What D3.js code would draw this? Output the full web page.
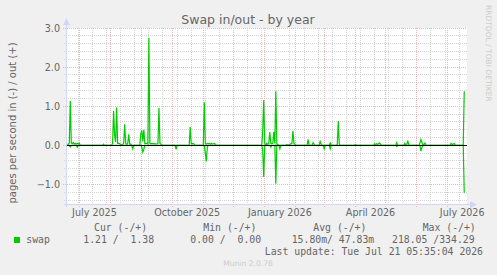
<!DOCTYPE html>
<html>
<head>
<meta charset="utf-8">
<script src="https://cdn.jsdelivr.net/npm/d3@7"></script>
<style>
  body { margin: 0; background: #f0f0f0; }
  svg { display: block; }
  text { font-family: "DejaVu Sans", sans-serif; }
  .mono { font-family: "DejaVu Sans Mono", monospace; white-space: pre; }
</style>
</head>
<body>
<svg width="497" height="275"></svg>
<script>
// daily samples (only days around activity, the rest is flat zero)
const dates = [
  "2025-06-19","2025-06-20","2025-06-21","2025-06-22","2025-06-23","2025-06-24","2025-06-25","2025-06-26","2025-06-27","2025-06-28","2025-06-29","2025-06-30",
  "2025-07-01","2025-07-02","2025-07-24","2025-07-25","2025-07-26",
  "2025-08-02","2025-08-03","2025-08-04","2025-08-05","2025-08-06","2025-08-07","2025-08-08","2025-08-09","2025-08-10","2025-08-11","2025-08-13","2025-08-14","2025-08-15","2025-08-16","2025-08-17","2025-08-18","2025-08-19","2025-08-20","2025-08-21","2025-08-22","2025-08-23","2025-08-24","2025-08-30","2025-08-31",
  "2025-09-01","2025-09-02","2025-09-03","2025-09-04","2025-09-05","2025-09-06","2025-09-07","2025-09-08","2025-09-09","2025-09-10","2025-09-11","2025-09-12","2025-09-13","2025-09-14","2025-09-15","2025-09-16","2025-09-17","2025-09-18","2025-09-19","2025-09-20","2025-09-21",
  "2025-10-04","2025-10-05","2025-10-06","2025-10-18","2025-10-19","2025-10-20","2025-10-21","2025-10-22","2025-10-23","2025-10-24",
  "2025-11-01","2025-11-02","2025-11-03","2025-11-04","2025-11-05","2025-11-06","2025-11-07","2025-11-08","2025-11-09","2025-11-10","2025-11-11","2025-11-12","2025-11-13","2025-11-14",
  "2025-12-29","2025-12-30","2025-12-31",
  "2026-01-01","2026-01-02","2026-01-03","2026-01-04","2026-01-05","2026-01-06","2026-01-07","2026-01-08","2026-01-09","2026-01-10","2026-01-11","2026-01-12","2026-01-13","2026-01-14","2026-01-15","2026-01-16","2026-01-17","2026-01-22","2026-01-23","2026-01-24","2026-01-28","2026-01-29","2026-01-30","2026-01-31",
  "2026-02-01","2026-02-12","2026-02-13","2026-02-14","2026-02-17","2026-02-18","2026-02-19","2026-02-20","2026-02-24","2026-02-25","2026-02-26","2026-02-27","2026-02-28",
  "2026-03-01","2026-03-02","2026-03-06","2026-03-07","2026-03-08","2026-03-13","2026-03-14","2026-03-15","2026-03-16","2026-03-17","2026-03-31",
  "2026-04-01","2026-04-02","2026-04-19","2026-04-20","2026-04-21","2026-04-22","2026-04-23","2026-04-24","2026-04-25","2026-04-26","2026-04-27",
  "2026-05-11","2026-05-12","2026-05-13","2026-05-19","2026-05-20","2026-05-21","2026-05-22","2026-05-23","2026-05-24",
  "2026-06-03","2026-06-04","2026-06-05","2026-06-06","2026-06-07","2026-06-08","2026-06-09","2026-06-10",
  "2026-07-04","2026-07-05","2026-07-06","2026-07-07","2026-07-08","2026-07-09","2026-07-17","2026-07-18"
];
// swap out, pages/s (drawn upwards)
const swapOut = [
  0.02,0.03,0.06,1.13,0.06,0.04,0.07,0.03,0.05,0.03,0.05,0.04,
  0.05,0,0,0.03,0,
  0,0.05,0.88,0.25,0.08,0.97,0.05,0.05,0.04,0.02,0.02,0.05,0.54,0.05,0.02,0.05,0.28,0.03,0.03,0,0,0,0,0.30,
  0.38,0.10,0.40,0.04,0.05,0.05,0.04,2.75,0.05,0.04,0.05,0.04,0.05,0.03,0.04,0.03,0.05,0.96,0.05,0.03,0,
  0,0,0,0,0.47,0.05,0.04,0.05,0.03,0,
  0,1.10,0.05,0.03,0.05,0.04,0.05,0.03,0.05,0.03,0.04,0.05,0.03,0,
  0,0.38,1.15,
  0.05,0,0.05,0.02,0.05,0.34,0.05,0.04,0.05,0.34,0.05,1.38,0.03,0.02,0,0,0,0,0.02,0,0.05,0.37,0.05,0.03,
  0,0,0.15,0,0,0.07,0.03,0,0,0.10,0.03,0,0,
  0,0,0,0.06,0,0,0.03,0.62,0.03,0,0,
  0.02,0,0,0.04,0.02,0.04,0.02,0.04,0.06,0.02,0,
  0,0.07,0,0,0.05,0,0.03,0.12,0,
  0,0.05,0.15,0.08,0,0.02,0.06,0,
  0,0.05,0.02,0.03,0.05,0,0,1.38
];
// swap in, pages/s (drawn downwards)
const swapIn = [
  0,0,0,0.04,0,0,0,0,0,0,0.05,0,
  0,0,0,0,0,
  0,0,0,0,0,0,0,0,0,0,0,0,0,0,0,0,0,0,0,0,0.09,0,0,0,
  0.05,0.17,0.10,0,0,0,0,0,0,0,0,0,0,0,0,0,0,0,0,0,0,
  0,0.10,0,0,0,0,0,0,0,0,
  0,0,0.20,0.41,0.05,0,0,0,0,0,0,0,0,0,
  0,0.12,0.81,
  0,0,0,0,0,0,0.05,0,0,0,0,0.98,0,0,0,0.09,0,0,0,0,0,0,0,0,
  0,0,0,0,0,0,0,0,0,0,0,0,0,
  0.09,0,0,0.09,0,0,0,0,0,0,0,
  0,0,0,0,0,0,0,0,0,0,0,
  0,0.03,0,0,0,0,0,0,0,
  0,0,0.15,0.05,0,0,0,0,
  0,0,0,0,0,0,0,1.21
];

const yTicks = [-1.0, 0.0, 1.0, 2.0, 3.0];
const quarterLabels = ["2025-07-01", "2025-10-01", "2026-01-01", "2026-04-01", "2026-07-01"];
const legendHeads = ["Cur (-/+)", "Min (-/+)", "Avg (-/+)", "Max (-/+)"];
const legendValues = ["1.21 /  1.38", "0.00 /  0.00", "15.80m/ 47.83m", "218.05 /334.29"];
const seriesName = "swap";
const lastUpdate = "Last update: Tue Jul 21 05:35:04 2026";

const colors = {
  back: "#f0f0f0",
  canvas: "#ffffff",
  font: "#666666",
  axis: "#cfd6f8",
  grid: "#d4d4d4",
  mgrid: "#f2b4b4",
  line: "#00cc00"
};

const svg = d3.select("svg");
const parse = d3.timeParse("%Y-%m-%d");

const x = d3.scaleTime()
  .domain([new Date(2025, 5, 19, 5, 35), new Date(2026, 6, 21, 5, 35)])
  .range([67.5, 467.5]);
const y = d3.scaleLinear().domain([-1.5, 3.0]).range([204, 28]);

const crisp = v => Math.floor(v) + 0.5;

svg.append("rect").attr("width", 497).attr("height", 275).attr("fill", colors.back);
svg.append("rect").attr("x", 67).attr("y", 28).attr("width", 400).attr("height", 176)
  .attr("fill", colors.canvas);

// grid
const grid = svg.append("g");
const minorY = d3.range(-14, 31, 2).map(v => v / 10).filter(v => Math.abs(v % 1) > 0.01);
grid.selectAll(".hminor").data(minorY).enter().append("line")
  .attr("x1", 64).attr("x2", 467).attr("y1", d => crisp(y(d))).attr("y2", d => crisp(y(d)))
  .attr("stroke", colors.grid).attr("stroke-dasharray", "1,1");

// biweekly minor lines (Mondays)
let weeks = [];
for (let t = new Date(2025, 5, 30); t < x.domain()[1]; t = d3.timeDay.offset(t, 14)) weeks.push(t);
grid.selectAll(".vminor").data(weeks).enter().append("line")
  .attr("x1", d => crisp(x(d))).attr("x2", d => crisp(x(d))).attr("y1", 28).attr("y2", 206)
  .attr("stroke", colors.grid).attr("stroke-dasharray", "1,1");

const months = d3.timeMonth.range(new Date(2025, 6, 1), x.domain()[1]);
grid.selectAll(".vmajor").data(months).enter().append("line")
  .attr("x1", d => crisp(x(d))).attr("x2", d => crisp(x(d))).attr("y1", 28).attr("y2", 207)
  .attr("stroke", colors.mgrid).attr("stroke-dasharray", "1,1");
grid.selectAll(".hmajor").data(yTicks).enter().append("line")
  .attr("x1", 63).attr("x2", 467).attr("y1", d => crisp(y(d))).attr("y2", d => crisp(y(d)))
  .attr("stroke", colors.mgrid).attr("stroke-dasharray", "1,1");

// data
const rows = dates.map((d, i) => ({date: parse(d), out: swapOut[i], in: swapIn[i]}));
const lineOut = d3.line().x(d => x(d.date)).y(d => y(d.out));
const lineIn = d3.line().x(d => x(d.date)).y(d => y(-d.in));
svg.append("path").attr("d", lineIn(rows)).attr("fill", "none")
  .attr("stroke", colors.line).attr("stroke-width", 1.2);
svg.append("path").attr("d", lineOut(rows)).attr("fill", "none")
  .attr("stroke", colors.line).attr("stroke-width", 1.2);

// zero rule
svg.append("line").attr("x1", 67).attr("x2", 467).attr("y1", crisp(y(0))).attr("y2", crisp(y(0)))
  .attr("stroke", "#000");

// axes with arrows
svg.append("line").attr("x1", 64).attr("x2", 471).attr("y1", 204.5).attr("y2", 204.5)
  .attr("stroke", colors.axis);
svg.append("line").attr("x1", 66.5).attr("x2", 66.5).attr("y1", 207).attr("y2", 24)
  .attr("stroke", colors.axis);
svg.append("path").attr("d", "M470,201L477,204.5L470,208Z").attr("fill", colors.axis);
svg.append("path").attr("d", "M63,25L66.5,18L70,25Z").attr("fill", colors.axis);

// y labels
svg.append("g").selectAll("text").data(yTicks).enter().append("text")
  .attr("x", 60).attr("y", d => y(d) + 3.5).attr("text-anchor", "end")
  .attr("font-size", "9.6px").attr("fill", colors.font)
  .text(d => d3.format(".1f")(d));

// x labels, centred on the middle of the month like rrdtool
svg.append("g").selectAll("text").data(quarterLabels).enter().append("text")
  .attr("x", d => x(d3.timeDay.offset(parse(d), 15)))
  .attr("y", 216).attr("text-anchor", "middle")
  .attr("font-size", "9.6px").attr("fill", colors.font)
  .text(d => d3.timeFormat("%B %Y")(parse(d)));

// titles
svg.append("text").attr("x", 248).attr("y", 23.5).attr("text-anchor", "middle")
  .attr("font-size", "12.5px").attr("fill", colors.font).text("Swap in/out - by year");
svg.append("text").attr("transform", "translate(15.5,123) rotate(-90)")
  .attr("text-anchor", "middle").attr("font-size", "10px").attr("fill", colors.font)
  .text("pages per second in (-) / out (+)");
svg.append("text").attr("transform", "translate(485.5,5) rotate(90)")
  .attr("font-size", "7.5px").attr("fill", "#cccccc")
  .text("RRDTOOL / TOBI OETIKER");

// legend
const headX = [94, 203.3, 313.3, 422.7];
const valX = [83.3, 190.3, 291.7, 392];
svg.append("g").selectAll("text").data(legendHeads).enter().append("text")
  .attr("class", "mono").attr("x", (d, i) => headX[i]).attr("y", 231)
  .attr("font-size", "9.8px").attr("fill", colors.font).text(d => d);
svg.append("rect").attr("x", 14).attr("y", 237).attr("width", 6).attr("height", 6)
  .attr("fill", colors.line);
svg.append("text").attr("class", "mono").attr("x", 26.3).attr("y", 243)
  .attr("font-size", "9.8px").attr("fill", colors.font).text(seriesName);
svg.append("g").selectAll("text").data(legendValues).enter().append("text")
  .attr("class", "mono").attr("x", (d, i) => valX[i]).attr("y", 243)
  .attr("font-size", "9.8px").attr("fill", colors.font).text(d => d);
svg.append("text").attr("class", "mono").attr("x", 483).attr("y", 255)
  .attr("text-anchor", "end").attr("font-size", "9.8px").attr("fill", colors.font)
  .text(lastUpdate);
svg.append("text").attr("x", 248).attr("y", 266).attr("text-anchor", "middle")
  .attr("font-size", "7.6px").attr("fill", "#cccccc").text("Munin 2.0.76");
</script>
</body>
</html>
